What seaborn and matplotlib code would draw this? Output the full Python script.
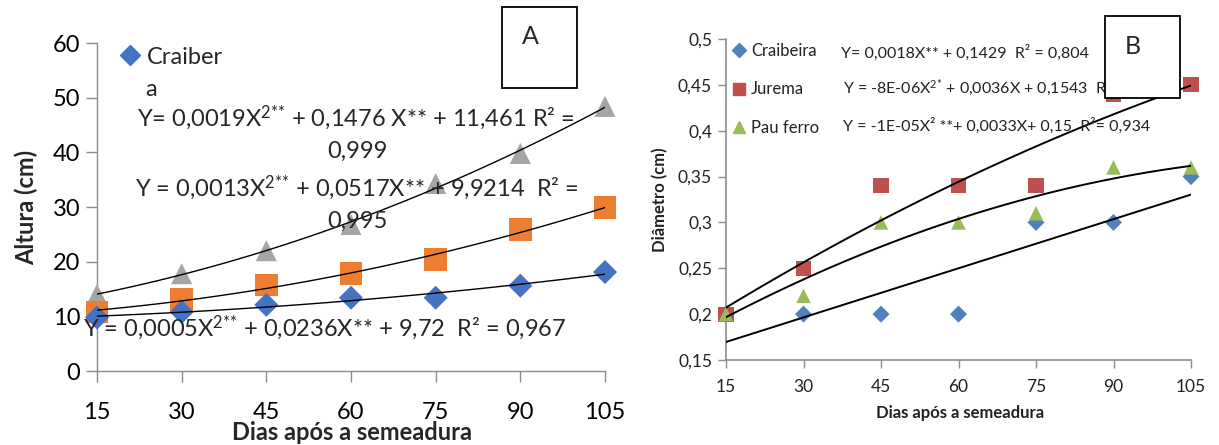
import numpy as np
import pandas as pd
import matplotlib
matplotlib.use("Agg")
import matplotlib.pyplot as plt
import seaborn as sns
from matplotlib.lines import Line2D
from matplotlib.patches import Rectangle

# ---------------- data ----------------
dias = [15, 30, 45, 60, 75, 90, 105]
especies = ["Craibeira", "Jurema", "Pau ferro"]

altura_craibeira = [9.8, 10.8, 12.1, 13.4, 13.4, 15.6, 18.1]
altura_jurema = [10.8, 13.1, 15.7, 17.8, 20.4, 25.9, 29.9]
altura_pau_ferro = [14.0, 17.8, 22.0, 26.8, 34.3, 39.8, 48.4]

diam_craibeira = [0.20, 0.20, 0.20, 0.20, 0.30, 0.30, 0.35]
diam_jurema = [0.20, 0.25, 0.34, 0.34, 0.34, 0.44, 0.45]
diam_pau_ferro = [0.20, 0.22, 0.30, 0.30, 0.31, 0.36, 0.36]

xticks = [15, 30, 45, 60, 75, 90, 105]
yticks_a = [0, 10, 20, 30, 40, 50, 60]
yticks_b = [0.15, 0.2, 0.25, 0.3, 0.35, 0.4, 0.45, 0.5]
ytick_labels_b = ["0,15", "0,2", "0,25", "0,3", "0,35", "0,4", "0,45", "0,5"]

eq_a1 = "Y= 0,0019X$^{\\mathrm{2{*}{*}}}$ + 0,1476 X** + 11,461 R² ="
eq_a1b = "0,999"
eq_a2 = "Y = 0,0013X$^{\\mathrm{2{*}{*}}}$ + 0,0517X** + 9,9214  R² ="
eq_a2b = "0,995"
eq_a3 = "Y = 0,0005X$^{\\mathrm{2{*}{*}}}$ + 0,0236X** + 9,72  R² = 0,967"
eq_b1 = "Y= 0,0018X** + 0,1429  R² = 0,804"
eq_b2 = "Y = -8E-06X$^{\\mathrm{2{*}}}$ + 0,0036X + 0,1543  R² ="
eq_b3 = "Y = -1E-05X² **+ 0,0033X+ 0,15  R²= 0,934"

# ---------------- style ----------------
sns.set_theme(style="white")
plt.rcParams["font.family"] = ["Lato", "DejaVu Sans"]
plt.rcParams["mathtext.fontset"] = "custom"
plt.rcParams["mathtext.rm"] = "Lato"
plt.rcParams["mathtext.it"] = "Lato:italic"
plt.rcParams["mathtext.bf"] = "Lato:bold"

W, H = 1219, 445
fig = plt.figure(figsize=(W / 100, H / 100), dpi=100)
fig.patch.set_facecolor("white")


def fx(px):
    return px / W


def fy(py):
    return 1 - py / H


def axes_rect(l, t, r, b):
    return [fx(l), fy(b), fx(r) - fx(l), fy(t) - fy(b)]


axis_gray = "#8c8c8c"

# ---------------- Panel A ----------------
axA = fig.add_axes(axes_rect(97, 43, 605, 371))
cols_a = {"Craibeira": "#4472C4", "Jurema": "#ED7D31", "Pau ferro": "#A5A5A5"}
marks = {"Craibeira": "D", "Jurema": "s", "Pau ferro": "^"}
size_a = {"Craibeira": 150, "Jurema": 260, "Pau ferro": 230}
vals_a = {"Craibeira": altura_craibeira, "Jurema": altura_jurema, "Pau ferro": altura_pau_ferro}
for sp in ["Pau ferro", "Jurema", "Craibeira"]:
    sns.scatterplot(x=dias, y=vals_a[sp], marker=marks[sp], color=cols_a[sp], s=size_a[sp],
                    edgecolor="none", ax=axA, clip_on=False, zorder=3)
for sp in especies:
    sns.regplot(x=dias, y=vals_a[sp], order=2, ci=None, scatter=False, color="black",
                line_kws={"lw": 1.0, "zorder": 4}, ax=axA)
axA.set_xlim(15, 105)
axA.set_ylim(0, 60)
axA.set_xticks(xticks)
axA.set_yticks(yticks_a)
axA.tick_params(axis="both", labelsize=17, colors=axis_gray, labelcolor="black",
                length=8, width=1, direction="out", pad=4, bottom=True, left=True)
axA.tick_params(axis="x", pad=14)
for s in ["top", "right"]:
    axA.spines[s].set_visible(False)
for s in ["left", "bottom"]:
    axA.spines[s].set_color(axis_gray)
    axA.spines[s].set_linewidth(1)
axA.set_xlabel("")
axA.set_ylabel("")
fig.text(fx(352), fy(433), "Dias após a semeadura", ha="center", va="center",
         fontsize=17, fontweight="bold")
fig.text(fx(26), fy(207), "Altura (cm)", ha="center", va="center", rotation=90,
         fontsize=17, fontweight="bold")

legA = [Line2D([], [], marker="D", color=cols_a["Craibeira"], ls="none", markersize=10)]
fig.legend(handles=legA, labels=["Craiber"], loc="center left",
           bbox_to_anchor=(fx(116), fy(57)), frameon=False, fontsize=17,
           handletextpad=0.1, borderaxespad=0, borderpad=0, handlelength=1.2)
fig.text(fx(145), fy(90), "a", ha="left", va="center", fontsize=17)

fig.text(fx(356), fy(118), eq_a1, ha="center", va="center", fontsize=17, zorder=5)
fig.text(fx(357), fy(151), eq_a1b, ha="center", va="center", fontsize=17, zorder=5)
fig.text(fx(357), fy(188), eq_a2, ha="center", va="center", fontsize=17, zorder=5)
fig.text(fx(357), fy(221), eq_a2b, ha="center", va="center", fontsize=17, zorder=5)
fig.text(fx(83), fy(328), eq_a3, ha="left", va="center", fontsize=17, zorder=5)

fig.patches.append(Rectangle((fx(502), fy(88)), fx(577) - fx(502), fy(7) - fy(88),
                             transform=fig.transFigure, facecolor="white",
                             edgecolor="black", lw=1.3, zorder=6))
fig.text(fx(530), fy(37), "A", ha="center", va="center", fontsize=18, zorder=7)

# ---------------- Panel B ----------------
axB = fig.add_axes(axes_rect(726, 39, 1191, 360))
cols_b = {"Craibeira": "#4F81BD", "Jurema": "#C0504D", "Pau ferro": "#9BBB59"}
size_b = {"Craibeira": 75, "Jurema": 120, "Pau ferro": 110}
vals_b = {"Craibeira": diam_craibeira, "Jurema": diam_jurema, "Pau ferro": diam_pau_ferro}
orders_b = {"Craibeira": 1, "Jurema": 2, "Pau ferro": 2}
for sp in especies:
    sns.scatterplot(x=dias, y=vals_b[sp], marker=marks[sp], color=cols_b[sp], s=size_b[sp],
                    edgecolor="none", ax=axB, clip_on=False, zorder=3)
for sp in especies:
    sns.regplot(x=dias, y=vals_b[sp], order=orders_b[sp], ci=None, scatter=False,
                color="black", line_kws={"lw": 1.4, "zorder": 4}, ax=axB)
axB.set_xlim(15, 105)
axB.set_ylim(0.15, 0.5)
axB.set_xticks(xticks)
axB.set_yticks(yticks_b)
axB.set_yticklabels(ytick_labels_b)
axB.tick_params(axis="both", labelsize=12.5, colors=axis_gray, labelcolor="#222222",
                length=6, width=1, direction="out", pad=4, bottom=True, left=True)
axB.tick_params(axis="x", pad=8)
for s in ["top", "right"]:
    axB.spines[s].set_visible(False)
for s in ["left", "bottom"]:
    axB.spines[s].set_color(axis_gray)
    axB.spines[s].set_linewidth(1.2)
axB.set_xlabel("")
axB.set_ylabel("")
fig.text(fx(960), fy(413), "Dias após a semeadura", ha="center", va="center",
         fontsize=12, fontweight="bold", color="#222222")
fig.text(fx(660), fy(200), "Diâmetro (cm)", ha="center", va="center", rotation=90,
         fontsize=12, fontweight="bold", color="#222222")

legB = [Line2D([], [], marker=marks[sp], color=cols_b[sp], ls="none",
               markersize={"Craibeira": 7, "Jurema": 9, "Pau ferro": 9}[sp]) for sp in especies]
fig.legend(handles=legB, labels=especies, loc="upper left",
           bbox_to_anchor=(fx(731), fy(43)), frameon=False, fontsize=12,
           handletextpad=0.2, borderaxespad=0, borderpad=0, handlelength=1.0,
           labelspacing=1.35, labelcolor="#222222")

fig.text(fx(841), fy(53), eq_b1, ha="left", va="center", fontsize=11.5, color="#222222", zorder=5)
fig.text(fx(843), fy(88), eq_b2, ha="left", va="center", fontsize=11.5, color="#222222", zorder=5)
fig.text(fx(843), fy(126), eq_b3, ha="left", va="center", fontsize=11.5, color="#222222", zorder=5)

fig.patches.append(Rectangle((fx(1105), fy(98)), fx(1180) - fx(1105), fy(16) - fy(98),
                             transform=fig.transFigure, facecolor="white",
                             edgecolor="black", lw=1.3, zorder=6))
fig.text(fx(1133), fy(47), "B", ha="center", va="center", fontsize=18, zorder=7)

fig.savefig("out.png", dpi=100, facecolor="white")
